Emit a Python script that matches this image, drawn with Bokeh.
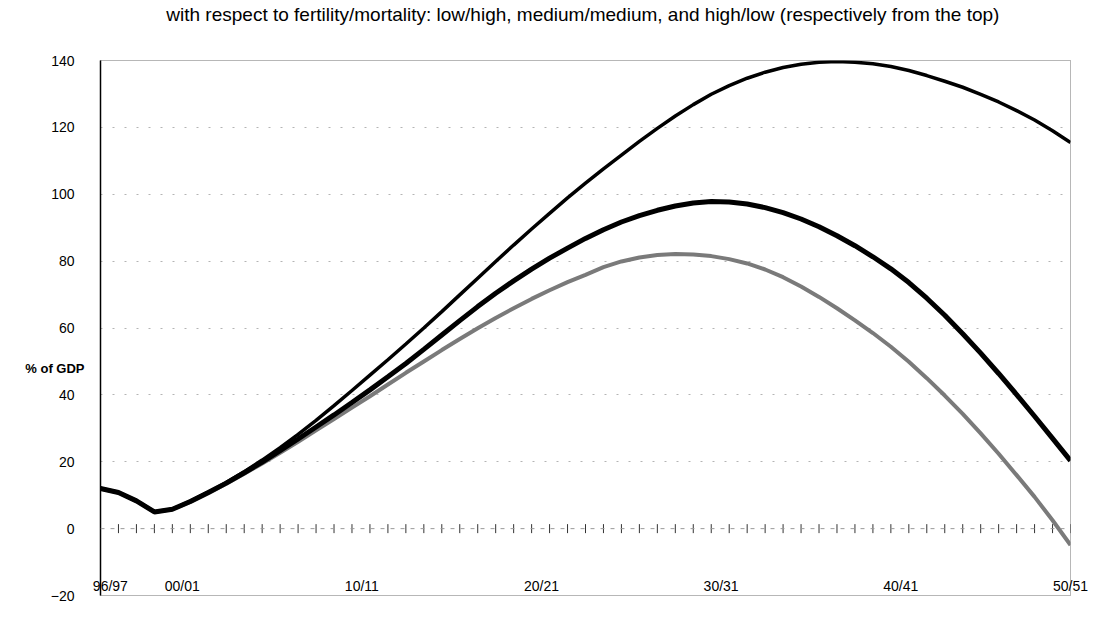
from bokeh.plotting import figure
from bokeh.models import Range1d, FixedTicker, Span, LinearAxis
from bokeh.embed import file_html
from bokeh.resources import INLINE
import math

# ---------------- data ----------------
categories = ["96/97", "97/98", "98/99", "99/00", "00/01", "01/02", "02/03", "03/04", "04/05", "05/06",
              "06/07", "07/08", "08/09", "09/10", "10/11", "11/12", "12/13", "13/14", "14/15", "15/16",
              "16/17", "17/18", "18/19", "19/20", "20/21", "21/22", "22/23", "23/24", "24/25", "25/26",
              "26/27", "27/28", "28/29", "29/30", "30/31", "31/32", "32/33", "33/34", "34/35", "35/36",
              "36/37", "37/38", "38/39", "39/40", "40/41", "41/42", "42/43", "43/44", "44/45", "45/46",
              "46/47", "47/48", "48/49", "49/50", "50/51"]

tick_labels = ["96/97", "00/01", "10/11", "20/21", "30/31", "40/41", "50/51"]

# fertility/mortality low/high (top curve)
low_high = [12.0, 10.8, 8.3, 5.0, 5.8, 8.2, 10.9, 13.8, 17.0, 20.5,
            24.2, 28.2, 32.4, 36.8, 41.3, 45.9, 50.5, 55.2, 60.0, 64.9,
            69.9, 74.9, 79.9, 84.8, 89.6, 94.3, 98.9, 103.3, 107.6, 111.7,
            115.8, 119.7, 123.4, 126.8, 129.9, 132.5, 134.7, 136.5, 137.9, 138.9,
            139.5, 139.7, 139.5, 139.0, 138.2, 137.0, 135.5, 133.8, 132.0, 129.9,
            127.6, 125.0, 122.2, 119.0, 115.5]

# fertility/mortality medium/medium (middle curve)
medium_medium = [12.0, 10.8, 8.3, 5.0, 5.8, 8.1, 10.8, 13.6, 16.7, 19.9,
                 23.3, 26.8, 30.4, 34.0, 37.7, 41.5, 45.4, 49.4, 53.6, 57.9,
                 62.2, 66.4, 70.4, 74.1, 77.6, 80.9, 83.9, 86.8, 89.4, 91.7,
                 93.6, 95.2, 96.5, 97.4, 97.8, 97.7, 97.1, 96.0, 94.5, 92.6,
                 90.3, 87.6, 84.6, 81.3, 77.7, 73.6, 68.9, 63.8, 58.3, 52.5,
                 46.4, 40.1, 33.6, 27.0, 20.3]

# fertility/mortality high/low (bottom curve)
high_low = [12.0, 10.8, 8.3, 5.0, 5.8, 8.0, 10.6, 13.4, 16.4, 19.5,
            22.7, 26.0, 29.4, 32.8, 36.2, 39.6, 43.1, 46.6, 50.0, 53.4,
            56.7, 59.9, 63.0, 65.9, 68.7, 71.3, 73.7, 75.9, 78.2, 79.9,
            81.1, 81.8, 82.1, 82.0, 81.5, 80.6, 79.3, 77.5, 75.2, 72.4,
            69.3, 65.9, 62.3, 58.5, 54.4, 49.9, 45.0, 39.8, 34.3, 28.5,
            22.4, 16.0, 9.5, 2.5, -4.9]

y_ticks = [-20, 0, 20, 40, 60, 80, 100, 120, 140]

title_text = ("with respect to  fertility/mortality: low/high, medium/medium, "
              "and high/low (respectively from the top)")
y_label_text = "% of GDP"

# ---------------- layout / style constants ----------------
W, H = 1100, 603
BL, BR, BT, BB = 100, 30, 60, 8
FONT = "Liberation Sans"
X_LABEL_SHIFT = 0.55      # category labels sit a little right of their tick
Y_LABEL_AT = 48           # vertical place of the "% of GDP" caption (data units)
TITLE_GAP = 32            # empty band between the title and the plot frame

idx = list(range(len(categories)))
last = len(categories) - 1
label_pos = [min(categories.index(t) + X_LABEL_SHIFT, last) for t in tick_labels]

p = figure(width=W, height=H, output_backend="svg", toolbar_location=None,
           x_range=Range1d(0, last), y_range=Range1d(y_ticks[0], y_ticks[-1]),
           min_border_left=BL, min_border_right=BR, min_border_top=BT, min_border_bottom=BB)
p.background_fill_color = "white"
p.border_fill_color = "white"
p.outline_line_color = "#6f6f6f"
p.outline_line_dash = "1 1"
p.outline_line_width = 1

xax = p.below[0]          # the category axis (below the frame)
yax = p.left[0]           # the value axis

# title
p.title.text = title_text
p.title.align = "center"
p.title.vertical_align = "top"
p.title.offset = -18
p.title.standoff = 4
p.title.text_font = FONT
p.title.text_font_size = "19px"
p.title.text_font_style = "normal"
p.title.text_color = "black"

# invisible spacer band above the frame (pushes the title to the top)
spacer = LinearAxis(ticker=FixedTicker(ticks=[0]), major_label_overrides={0: "."},
                    axis_line_color=None, major_tick_line_color=None,
                    minor_tick_line_color=None, major_tick_in=0,
                    major_tick_out=TITLE_GAP, minor_tick_out=0,
                    major_label_text_font_size="14px", major_label_text_color=None,
                    major_label_standoff=-24)
p.add_layout(spacer, "above")

# value axis
yax.ticker = FixedTicker(ticks=y_ticks)
yax.major_tick_line_color = None
yax.minor_tick_line_color = None
yax.axis_line_color = "black"
yax.axis_line_width = 1.5
yax.major_label_standoff = 20
yax.major_label_text_font = FONT
yax.major_label_text_font_size = "14px"
yax.major_label_text_color = "black"

# "% of GDP" caption as a second left axis with a single labelled tick
cap = LinearAxis(ticker=FixedTicker(ticks=[Y_LABEL_AT]),
                 major_label_overrides={Y_LABEL_AT: y_label_text},
                 axis_line_color=None, major_tick_line_color=None,
                 minor_tick_line_color=None, major_label_standoff=-43,
                 major_label_text_font=FONT, major_label_text_font_size="13px",
                 major_label_text_font_style="bold", major_label_text_color="black")
p.add_layout(cap, "left")

# category axis labels (drawn just above the bottom of the frame)
xax.ticker = FixedTicker(ticks=label_pos)
xax.major_label_overrides = {pos: lab for pos, lab in zip(label_pos, tick_labels)}
xax.axis_line_color = None
xax.major_tick_line_color = None
xax.minor_tick_line_color = None
xax.major_label_standoff = -24
xax.major_label_text_font = FONT
xax.major_label_text_font_size = "14px"
xax.major_label_text_color = "black"

p.xgrid.visible = False
p.ygrid.ticker = FixedTicker(ticks=y_ticks[2:-1])
p.ygrid.grid_line_color = "#b4b4b4"
p.ygrid.grid_line_dash = "2 10"
p.ygrid.grid_line_width = 1

# category axis line crossing at zero, with a tick at every year
p.add_layout(Span(location=0, dimension="width", line_color="#9a9a9a",
                  line_dash="4 6", line_width=1))
p.scatter(x=idx, y=[0] * len(idx), marker="dash", angle=math.pi / 2, size=9,
          line_color="#333333", line_width=1)

# series
p.line(idx, high_low, line_color="#7a7a7a", line_width=4)
p.line(idx, medium_medium, line_color="black", line_width=5)
p.line(idx, low_high, line_color="black", line_width=3.5)

open("out.html", "w").write(file_html(p, INLINE))
